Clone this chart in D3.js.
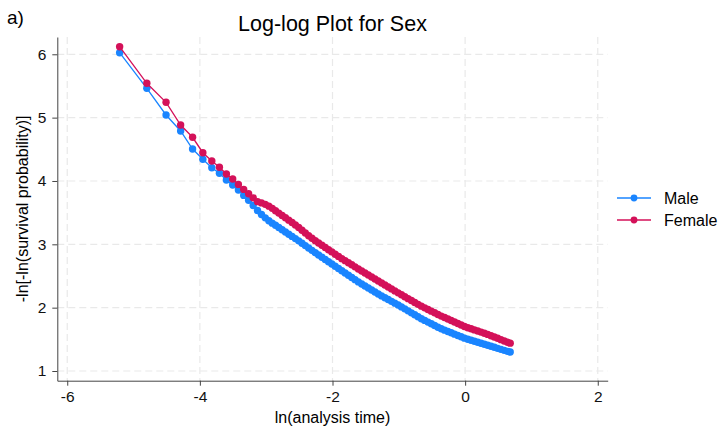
<!DOCTYPE html>
<html>
<head>
<meta charset="utf-8">
<script src="https://cdn.jsdelivr.net/npm/d3@7"></script>
<style>
  body { margin: 0; background: #fff; }
  svg { font-family: "Liberation Sans", Arial, sans-serif; }
  .grid line { stroke: #e9e9e9; stroke-width: 1.2; stroke-dasharray: 7 4; }
  .axis path, .axis line { stroke: #444; }
  .axis text { font-size: 15.5px; fill: #111; }
</style>
</head>
<body>
<svg width="720" height="435"></svg>
<script>
// ln(analysis time) -- first the sparse early points, then the dense part of the curve
var lnTime = [-5.21, -4.80, -4.51, -4.29, -4.11, -3.955, -3.82, -3.705, -3.60, -3.505,
  -3.419, -3.339, -3.265, -3.196, -3.131, -3.071, -3.014, -2.96, -2.909,
  -2.86, -2.81, -2.76, -2.71, -2.66, -2.61, -2.56, -2.51, -2.46, -2.41, -2.36, -2.31, -2.26, -2.21,
  -2.16, -2.11, -2.06, -2.01, -1.96, -1.91, -1.86, -1.81, -1.76, -1.71, -1.66, -1.61,
  -1.56, -1.51, -1.46, -1.41, -1.36, -1.31, -1.26, -1.21, -1.16, -1.11, -1.06, -1.01,
  -0.96, -0.91, -0.86, -0.81, -0.76, -0.71, -0.66, -0.61, -0.56, -0.51, -0.46, -0.41,
  -0.36, -0.31, -0.26, -0.21, -0.16, -0.11, -0.06, -0.01, 0.04, 0.09, 0.14, 0.19, 0.24, 0.29,
  0.34, 0.39, 0.44, 0.49, 0.54, 0.59, 0.64, 0.68];

var maleY = [6.025, 5.463, 5.042, 4.789, 4.505, 4.342, 4.210, 4.121, 4.015, 3.937,
  3.856, 3.772, 3.695, 3.614, 3.535, 3.471, 3.418, 3.372, 3.334,
  3.300, 3.265, 3.231, 3.195, 3.160, 3.125, 3.090, 3.055, 3.018, 2.980, 2.942, 2.905, 2.868, 2.831,
  2.796, 2.761, 2.725, 2.690, 2.654, 2.619, 2.583, 2.548, 2.512, 2.477, 2.442, 2.407,
  2.373, 2.342, 2.311, 2.279, 2.248, 2.216, 2.186, 2.157, 2.129, 2.100, 2.071, 2.042,
  2.012, 1.981, 1.950, 1.918, 1.887, 1.856, 1.826, 1.799, 1.772, 1.745, 1.718, 1.691,
  1.666, 1.645, 1.624, 1.603, 1.582, 1.561, 1.540, 1.519, 1.502, 1.486, 1.470, 1.454, 1.438, 1.422,
  1.406, 1.390, 1.374, 1.358, 1.342, 1.326, 1.310, 1.300];

var femaleY = [6.120, 5.542, 5.242, 4.884, 4.690, 4.446, 4.316, 4.216, 4.110, 4.031,
  3.946, 3.867, 3.798, 3.734, 3.674, 3.654, 3.631, 3.603, 3.568,
  3.531, 3.493, 3.456, 3.419, 3.382, 3.344, 3.305, 3.266, 3.223, 3.179, 3.135, 3.095, 3.058, 3.021,
  2.985, 2.950, 2.915, 2.880, 2.844, 2.809, 2.774, 2.742, 2.709, 2.677, 2.644, 2.611,
  2.579, 2.548, 2.516, 2.485, 2.453, 2.422, 2.390, 2.359, 2.327, 2.296, 2.265, 2.234,
  2.203, 2.173, 2.142, 2.112, 2.082, 2.052, 2.024, 1.997, 1.971, 1.945, 1.919, 1.892,
  1.867, 1.844, 1.820, 1.797, 1.773, 1.750, 1.726, 1.703, 1.684, 1.667, 1.649, 1.632, 1.614, 1.597,
  1.578, 1.557, 1.536, 1.516, 1.495, 1.474, 1.453, 1.440];

var seriesNames = ["Male", "Female"];
var seriesColors = ["#1a85ff", "#d41159"];
var xTicks = [-6, -4, -2, 0, 2];
var yTicks = [1, 2, 3, 4, 5, 6];

var svg = d3.select("svg");
var pLeft = 57.3, pRight = 607.7, pTop = 37, pBottom = 380.7;

var x = d3.scaleLinear().domain([-6.15, 2.15]).range([pLeft, pRight]);
var y = d3.scaleLinear().domain([0.847, 6.273]).range([pBottom, pTop]);

// dashed grid
var grid = svg.append("g").attr("class", "grid");
grid.selectAll(".gx").data(xTicks).enter().append("line")
  .attr("x1", function(d){ return x(d); }).attr("x2", function(d){ return x(d); })
  .attr("y1", pTop).attr("y2", pBottom);
grid.selectAll(".gy").data(yTicks).enter().append("line")
  .attr("x1", pLeft).attr("x2", pRight)
  .attr("y1", function(d){ return y(d); }).attr("y2", function(d){ return y(d); });

// axes
svg.append("g").attr("class", "axis")
  .attr("transform", "translate(0," + pBottom + ")")
  .call(d3.axisBottom(x).tickValues(xTicks).tickSize(5).tickSizeOuter(0).tickPadding(5)
    .tickFormat(function(d){ return d < 0 ? "-" + Math.abs(d) : d; }));
svg.append("g").attr("class", "axis")
  .attr("transform", "translate(" + pLeft + ",0)")
  .call(d3.axisLeft(y).tickValues(yTicks).tickSize(5).tickSizeOuter(0).tickPadding(6)
    .tickFormat(d3.format("d")));

// series
var series = [maleY, femaleY];
var line = d3.line()
  .x(function(d){ return x(d[0]); })
  .y(function(d){ return y(d[1]); });

series.forEach(function(vals, s){
  var pts = lnTime.map(function(t, j){ return [t, vals[j]]; });
  var g = svg.append("g");
  g.append("path").datum(pts)
    .attr("d", line).attr("fill", "none")
    .attr("stroke", seriesColors[s]).attr("stroke-width", 1.3);
  g.selectAll("circle").data(pts).enter().append("circle")
    .attr("cx", function(d){ return x(d[0]); })
    .attr("cy", function(d){ return y(d[1]); })
    .attr("r", 3.7).attr("fill", seriesColors[s]);
});

// titles
svg.append("text").attr("x", (pLeft + pRight) / 2).attr("y", 31)
  .attr("text-anchor", "middle").style("font-size", "21.5px").text("Log-log Plot for Sex");
svg.append("text").attr("x", 7).attr("y", 24)
  .style("font-size", "19px").text("a)");
svg.append("text").attr("x", (pLeft + pRight) / 2).attr("y", 423)
  .attr("text-anchor", "middle").style("font-size", "16px").text("ln(analysis time)");
svg.append("text")
  .attr("transform", "translate(28," + ((pTop + pBottom) / 2) + ") rotate(-90)")
  .attr("text-anchor", "middle").style("font-size", "16px")
  .text("-ln[-ln(survival probability)]");

// legend
var legend = svg.selectAll(".leg").data(seriesNames).enter().append("g")
  .attr("transform", function(d, i){ return "translate(617," + (198 + i * 22) + ")"; });
legend.append("line").attr("x1", 0).attr("x2", 34).attr("y1", 0).attr("y2", 0)
  .attr("stroke", function(d, i){ return seriesColors[i]; }).attr("stroke-width", 1.3);
legend.append("circle").attr("cx", 17).attr("cy", 0).attr("r", 3.4)
  .attr("fill", function(d, i){ return seriesColors[i]; });
legend.append("text").attr("x", 47).attr("y", 5.5)
  .style("font-size", "16px").text(function(d){ return d; });
</script>
</body>
</html>
